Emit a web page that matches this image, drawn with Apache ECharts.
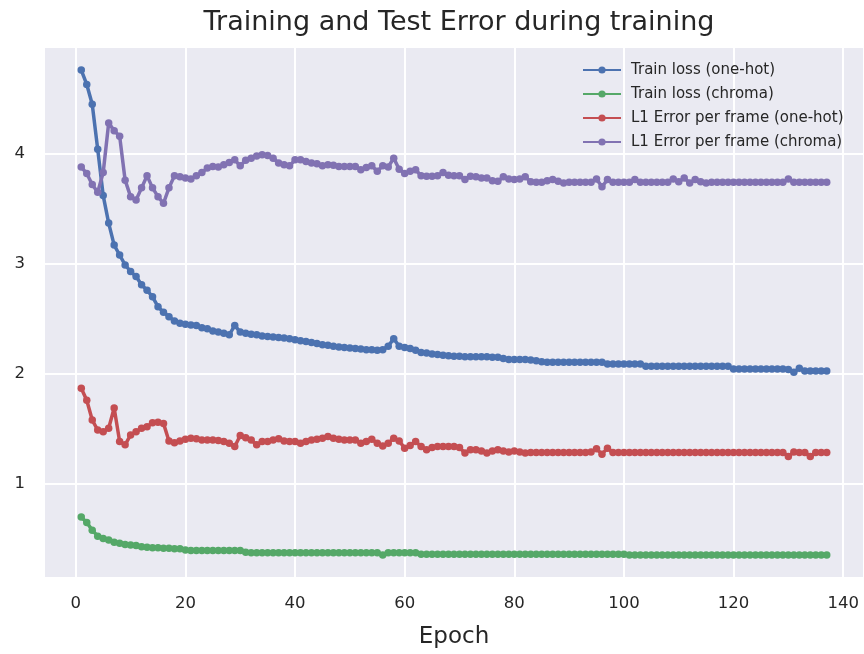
<!DOCTYPE html>
<html>
<head>
<meta charset="utf-8">
<script src="https://cdn.jsdelivr.net/npm/echarts@6/dist/echarts.min.js"></script>
<style>
  html, body { margin: 0; padding: 0; background: #fff; }
  #chart { width: 864px; height: 654px; }
</style>
</head>
<body>
<div id="chart"></div>
<script>
// values per epoch (epoch 1 .. 137)
const trainOneHot = [
  4.76, 4.63, 4.45, 4.04, 3.62, 3.37, 3.17, 3.08, 2.99, 2.93,
  2.885, 2.81, 2.76, 2.70, 2.61, 2.56, 2.52, 2.48, 2.46, 2.45,
  2.445, 2.44, 2.42, 2.41, 2.39, 2.38, 2.37, 2.355, 2.44, 2.38,
  2.37, 2.36, 2.355, 2.345, 2.34, 2.335, 2.33, 2.325, 2.32, 2.31,
  2.30, 2.295, 2.285, 2.275, 2.265, 2.26, 2.25, 2.245, 2.24, 2.235,
  2.23, 2.225, 2.22, 2.22, 2.215, 2.22, 2.25, 2.32, 2.25, 2.24,
  2.23, 2.215, 2.195, 2.19, 2.18, 2.175, 2.17, 2.165, 2.16, 2.16,
  2.155, 2.155, 2.155, 2.155, 2.155, 2.15, 2.15, 2.14, 2.13, 2.13,
  2.13, 2.13, 2.125, 2.12, 2.11, 2.105, 2.105, 2.105, 2.105, 2.105,
  2.105, 2.105, 2.105, 2.105, 2.105, 2.105, 2.09, 2.09, 2.09, 2.09,
  2.09, 2.09, 2.09, 2.07, 2.07, 2.07, 2.07, 2.07, 2.07, 2.07,
  2.07, 2.07, 2.07, 2.07, 2.07, 2.07, 2.07, 2.07, 2.07, 2.045,
  2.045, 2.045, 2.045, 2.045, 2.045, 2.045, 2.045, 2.045, 2.045, 2.04,
  2.015, 2.05, 2.025, 2.025, 2.025, 2.025, 2.025
];
const trainChroma = [
  0.70, 0.65, 0.58, 0.525, 0.505, 0.49, 0.47, 0.46, 0.45, 0.445,
  0.44, 0.43, 0.425, 0.42, 0.42, 0.415, 0.415, 0.41, 0.41, 0.40,
  0.395, 0.395, 0.395, 0.395, 0.395, 0.395, 0.395, 0.395, 0.395, 0.395,
  0.38, 0.375, 0.375, 0.375, 0.375, 0.375, 0.375, 0.375, 0.375, 0.375,
  0.375, 0.375, 0.375, 0.375, 0.375, 0.375, 0.375, 0.375, 0.375, 0.375,
  0.375, 0.375, 0.375, 0.375, 0.375, 0.355, 0.375, 0.375, 0.375, 0.375,
  0.375, 0.375, 0.36, 0.36, 0.36, 0.36, 0.36, 0.36, 0.36, 0.36,
  0.36, 0.36, 0.36, 0.36, 0.36, 0.36, 0.36, 0.36, 0.36, 0.36,
  0.36, 0.36, 0.36, 0.36, 0.36, 0.36, 0.36, 0.36, 0.36, 0.36,
  0.36, 0.36, 0.36, 0.36, 0.36, 0.36, 0.36, 0.36, 0.36, 0.36,
  0.355, 0.355, 0.355, 0.355, 0.355, 0.355, 0.355, 0.355, 0.355, 0.355,
  0.355, 0.355, 0.355, 0.355, 0.355, 0.355, 0.355, 0.355, 0.355, 0.355,
  0.355, 0.355, 0.355, 0.355, 0.355, 0.355, 0.355, 0.355, 0.355, 0.355,
  0.355, 0.355, 0.355, 0.355, 0.355, 0.355, 0.355
];
const l1OneHot = [
  1.87, 1.76, 1.58, 1.49, 1.475, 1.505, 1.69, 1.385, 1.355, 1.445,
  1.475, 1.505, 1.52, 1.555, 1.56, 1.55, 1.39, 1.375, 1.39, 1.405,
  1.415, 1.41, 1.40, 1.40, 1.40, 1.395, 1.385, 1.37, 1.34, 1.44,
  1.42, 1.40, 1.355, 1.385, 1.385, 1.40, 1.41, 1.39, 1.385, 1.385,
  1.37, 1.385, 1.40, 1.405, 1.415, 1.43, 1.415, 1.405, 1.40, 1.40,
  1.40, 1.37, 1.385, 1.405, 1.37, 1.345, 1.37, 1.415, 1.39, 1.325,
  1.35, 1.385, 1.34, 1.31, 1.33, 1.34, 1.34, 1.34, 1.34, 1.33,
  1.28, 1.31, 1.31, 1.30, 1.28, 1.30, 1.31, 1.30, 1.29, 1.30,
  1.29, 1.28, 1.285, 1.285, 1.285, 1.285, 1.285, 1.285, 1.285, 1.285,
  1.285, 1.285, 1.285, 1.29, 1.32, 1.27, 1.325, 1.285, 1.285, 1.285,
  1.285, 1.285, 1.285, 1.285, 1.285, 1.285, 1.285, 1.285, 1.285, 1.285,
  1.285, 1.285, 1.285, 1.285, 1.285, 1.285, 1.285, 1.285, 1.285, 1.285,
  1.285, 1.285, 1.285, 1.285, 1.285, 1.285, 1.285, 1.285, 1.285, 1.25,
  1.29, 1.285, 1.285, 1.25, 1.285, 1.285, 1.285
];
const l1Chroma = [
  3.88, 3.82, 3.72, 3.65, 3.83, 4.28, 4.21, 4.16, 3.76, 3.61,
  3.58, 3.69, 3.80, 3.69, 3.61, 3.55, 3.69, 3.80, 3.79, 3.78,
  3.77, 3.80, 3.83, 3.87, 3.885, 3.88, 3.90, 3.92, 3.945, 3.89,
  3.94, 3.96, 3.98, 3.99, 3.985, 3.96, 3.915, 3.90, 3.89, 3.945,
  3.945, 3.93, 3.915, 3.91, 3.89, 3.90, 3.895, 3.885, 3.885, 3.885,
  3.885, 3.855, 3.875, 3.89, 3.84, 3.89, 3.88, 3.96, 3.86, 3.82,
  3.84, 3.855, 3.80, 3.795, 3.795, 3.80, 3.83, 3.805, 3.80, 3.80,
  3.765, 3.795, 3.79, 3.78, 3.78, 3.755, 3.75, 3.79, 3.77, 3.765,
  3.77, 3.79, 3.745, 3.74, 3.74, 3.755, 3.765, 3.75, 3.735, 3.74,
  3.74, 3.74, 3.74, 3.74, 3.77, 3.70, 3.765, 3.74, 3.74, 3.74,
  3.74, 3.765, 3.74, 3.74, 3.74, 3.74, 3.74, 3.74, 3.77, 3.745,
  3.78, 3.735, 3.765, 3.745, 3.735, 3.74, 3.74, 3.74, 3.74, 3.74,
  3.74, 3.74, 3.74, 3.74, 3.74, 3.74, 3.74, 3.74, 3.74, 3.77,
  3.74, 3.74, 3.74, 3.74, 3.74, 3.74, 3.74
];
const seriesNames = [
  'Train loss (one-hot)',
  'Train loss (chroma)',
  'L1 Error per frame (one-hot)',
  'L1 Error per frame (chroma)'
];
const seriesValues = [trainOneHot, trainChroma, l1OneHot, l1Chroma];
const colors = ['#4c72b0', '#55a868', '#c44e52', '#8172b2'];

const FONT = '"DejaVu Sans", sans-serif';
const textColor = '#262626';

const myChart = echarts.init(document.getElementById('chart'), null, {renderer: 'canvas'});

// epoch number is just the position in the list (1-based)
const series = seriesValues.map(function (vals, k) {
  return {
    name: seriesNames[k],
    type: 'line',
    data: vals.map(function (v, i) { return [i + 1, v]; }),
    symbol: 'circle',
    symbolSize: 7.5,
    showAllSymbol: true,
    lineStyle: {width: 3.5, color: colors[k]},
    itemStyle: {color: colors[k]},
    z: 2 + k
  };
});

const option = {
  animation: false,
  backgroundColor: '#ffffff',
  title: {
    text: 'Training and Test Error during training',
    left: 454,
    textAlign: 'center',
    top: 4,
    textStyle: {fontFamily: FONT, fontSize: 27, fontWeight: 'normal', color: textColor}
  },
  legend: {
    orient: 'vertical',
    left: 577,
    top: 57,
    itemWidth: 38,
    itemHeight: 9,
    itemGap: 8,
    textStyle: {fontFamily: FONT, fontSize: 15, lineHeight: 16, color: textColor, padding: [0, 0, 0, 5]},
    data: seriesNames
  },
  grid: {
    left: 44,
    top: 47,
    right: 0,
    bottom: 76,
    show: true,
    backgroundColor: '#eaeaf2',
    borderWidth: 0
  },
  xAxis: {
    type: 'value',
    min: -5.8,
    max: 143.8,
    splitNumber: 7,
    name: 'Epoch',
    nameLocation: 'middle',
    nameGap: 48,
    nameTextStyle: {fontFamily: FONT, fontSize: 23, color: textColor},
    axisLine: {show: false},
    axisTick: {show: false},
    axisLabel: {
      fontFamily: FONT, fontSize: 16.5, color: textColor, margin: 17,
      showMinLabel: false, showMaxLabel: false,
      formatter: function (v) { return v % 20 === 0 ? String(v) : ''; }
    },
    splitLine: {show: true, lineStyle: {color: '#ffffff', width: 2}}
  },
  yAxis: {
    type: 'value',
    min: 0.145,
    max: 4.97,
    splitNumber: 5,
    axisLine: {show: false},
    axisTick: {show: false},
    axisLabel: {
      fontFamily: FONT, fontSize: 16.5, color: textColor, margin: 19,
      showMinLabel: false, showMaxLabel: false,
      formatter: function (v) { return Number.isInteger(v) ? String(v) : ''; }
    },
    splitLine: {show: true, lineStyle: {color: '#ffffff', width: 2}}
  },
  series: series
};

myChart.setOption(option);
</script>
</body>
</html>
